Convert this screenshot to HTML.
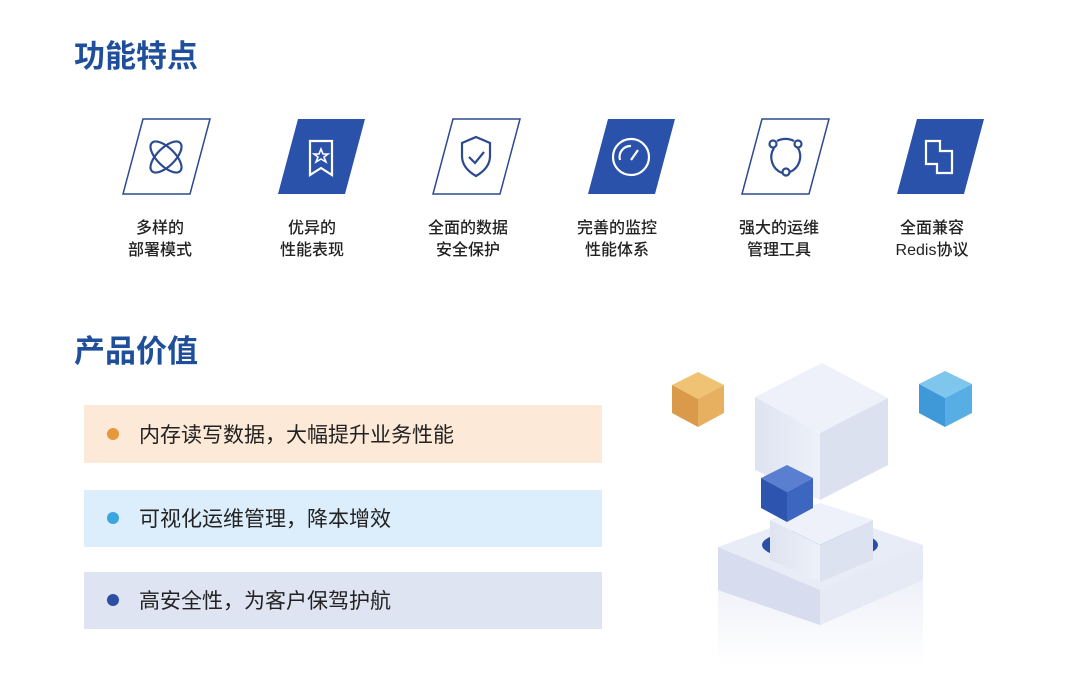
<!DOCTYPE html>
<html><head><meta charset="utf-8"><style>
body{margin:0;width:1080px;height:687px;background:#fff;overflow:hidden;font-family:"Liberation Sans","Noto Sans CJK SC",sans-serif;}
svg{position:absolute;left:0;top:0}
</style></head><body>
<svg width="1080" height="687" viewBox="0 0 1080 687" xmlns="http://www.w3.org/2000/svg" font-family="Liberation Sans, Noto Sans CJK SC, sans-serif">
<defs>
<linearGradient id="fade" x1="0" y1="0" x2="0" y2="1"><stop offset="0" stop-color="#dfe4f2"/><stop offset="1" stop-color="#ffffff"/></linearGradient>
<linearGradient id="lf" x1="0" y1="0" x2="1" y2="0"><stop offset="0" stop-color="#dfe3f1"/><stop offset="1" stop-color="#eef1f9"/></linearGradient>
</defs>
<text x="74" y="67" font-size="31" font-weight="bold" fill="#1f4f9b">功能特点</text>
<text x="74" y="362" font-size="31" font-weight="bold" fill="#1f4f9b">产品价值</text>

<g stroke="#2b4a8f" stroke-width="1.5">
<polygon points="143,119 210,119 190,194 123,194" fill="#fff"/>
<polygon points="298,119 365,119 345,194 278,194" fill="#2a52ab" stroke="none"/>
<polygon points="453,119 520,119 500,194 433,194" fill="#fff"/>
<polygon points="608,119 675,119 655,194 588,194" fill="#2a52ab" stroke="none"/>
<polygon points="762,119 829,119 809,194 742,194" fill="#fff"/>
<polygon points="917,119 984,119 964,194 897,194" fill="#2a52ab" stroke="none"/>
</g>
<g fill="none" stroke="#2b4a8f" stroke-width="2.2">
<ellipse cx="166" cy="157" rx="20" ry="9" transform="rotate(45 166 157)"/>
<ellipse cx="166" cy="157" rx="20" ry="9" transform="rotate(-45 166 157)"/>
<path d="M476 137 L490 143 V156 C490 166 483 172 476 176 C469 172 462 166 462 156 V143 Z"/>
<path d="M469 157 L475 163 L484 152"/>
<path d="M774 148 A17 17 0 0 0 782 173"/><path d="M790 172 A17 17 0 0 0 798 148"/><path d="M777 141 A18 18 0 0 1 794 141"/>
<circle cx="773" cy="144" r="3.5" fill="#fff"/><circle cx="798" cy="144" r="3.5" fill="#fff"/><circle cx="786" cy="172" r="3.5" fill="#fff"/>
</g>
<g fill="none" stroke="#fff" stroke-width="2.2">
<path d="M310 141 H332 V175 L321 168 L310 175 Z"/>
<polygon points="321,149 323,154 328,154 324,157 326,162 321,159 316,162 318,157 314,154 319,154" stroke-width="1.6"/>
<circle cx="631" cy="157" r="18"/><path d="M631 160 L638 150"/><path d="M620 160 A11 11 0 0 1 631 146"/>
<path d="M926 141 H940 V151 H952 V173 H937 V164 H926 Z"/>
</g>
<g font-size="16" fill="#222" text-anchor="middle" font-weight="500">
<text x="160" y="233">多样的</text><text x="160" y="255">部署模式</text>
<text x="312" y="233">优异的</text><text x="312" y="255">性能表现</text>
<text x="468" y="233">全面的数据</text><text x="468" y="255">安全保护</text>
<text x="617" y="233">完善的监控</text><text x="617" y="255">性能体系</text>
<text x="779" y="233">强大的运维</text><text x="779" y="255">管理工具</text>
<text x="932" y="233">全面兼容</text><text x="932" y="255">Redis协议</text>
</g>
<rect x="84" y="405" width="518" height="58" fill="#fde9d7"/>
<rect x="84" y="490" width="518" height="57" fill="#dcedfb"/>
<rect x="84" y="572" width="518" height="57" fill="#dee4f1"/>
<circle cx="113" cy="434" r="6" fill="#e6993b"/>
<circle cx="113" cy="518" r="6" fill="#3aa6df"/>
<circle cx="113" cy="600" r="6" fill="#2d4ea5"/>
<g font-size="21" fill="#222">
<text x="139" y="442">内存读写数据，大幅提升业务性能</text>
<text x="139" y="526">可视化运维管理，降本增效</text>
<text x="139" y="608">高安全性，为客户保驾护航</text>
</g>
<rect x="718" y="555" width="205" height="110" fill="url(#fade)" opacity="0.7"/>
<polygon points="718,547 820,510 923,545 820,590" fill="#e8ecf6"/>
<polygon points="718,547 820,590 820,625 718,590" fill="#d7dcee"/>
<polygon points="820,590 923,545 923,580 820,625" fill="#e6eaf5"/>
<ellipse cx="820" cy="545" rx="58" ry="16" fill="#2a4fa4"/>
<polygon points="770,520 820,503 873,520 820,545" fill="#eef1f9"/>
<polygon points="770,520 820,545 820,582 770,560" fill="url(#lf)"/>
<polygon points="820,545 873,520 873,560 820,582" fill="#dde2f0"/>
<polygon points="755,397 822,363 888,398 820,433" fill="#eef1f9"/>
<polygon points="755,397 820,433 820,500 755,470" fill="url(#lf)"/>
<polygon points="820,433 888,398 888,465 820,500" fill="#dce1f0"/>
<polygon points="761,478 787,465 813,478 787,492" fill="#5a7fd0"/>
<polygon points="761,478 787,492 787,522 761,508" fill="#2d55b0"/>
<polygon points="787,492 813,478 813,508 787,522" fill="#3d66c0"/>
<polygon points="672,385 698,372 724,385 698,399" fill="#f0c273"/>
<polygon points="672,385 698,399 698,427 672,413" fill="#d99a4a"/>
<polygon points="698,399 724,385 724,413 698,427" fill="#e7b060"/>
<polygon points="919,384 945,371 972,384 945,398" fill="#7fc6ec"/>
<polygon points="919,384 945,398 945,427 919,413" fill="#3f98d7"/>
<polygon points="945,398 972,384 972,413 945,427" fill="#56aee4"/>
</svg>
</body></html>
